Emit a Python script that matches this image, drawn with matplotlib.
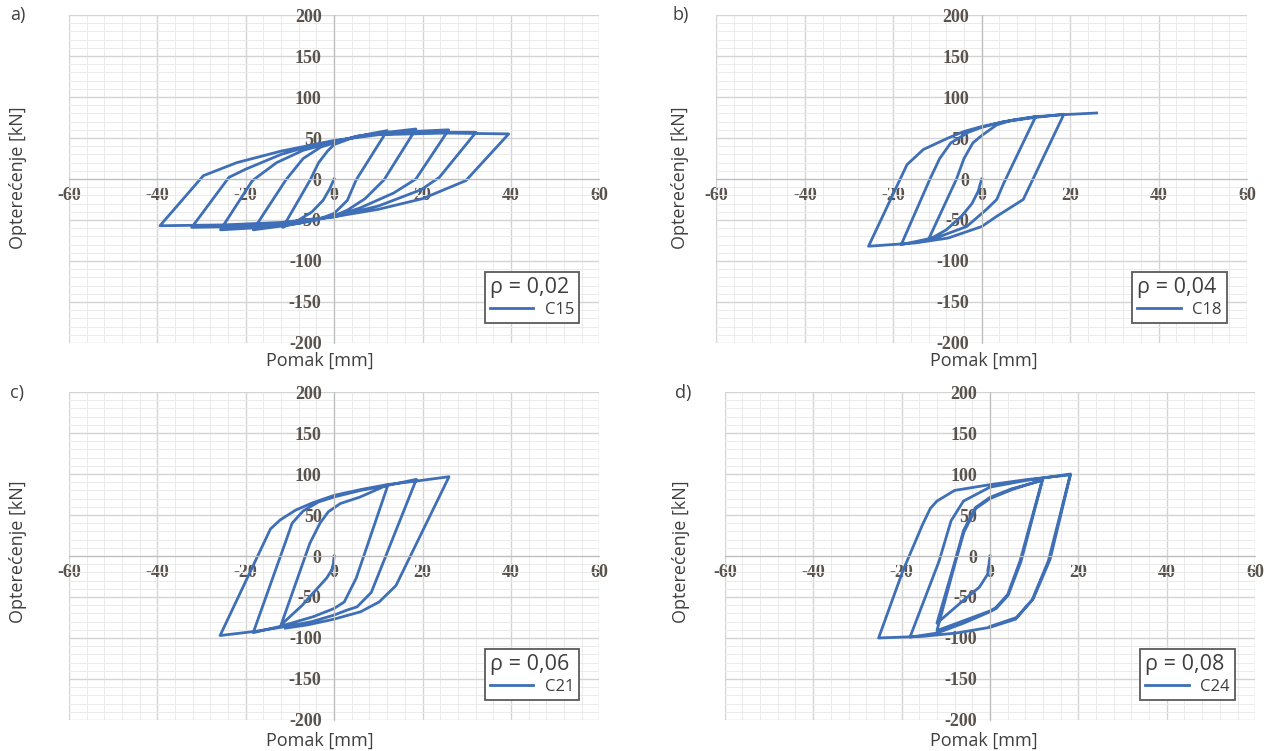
import numpy as np
import matplotlib.pyplot as plt

plt.rcParams['axes.unicode_minus'] = False

# C15 (rho = 0,02)
c15_x = [0, -1, -2.5, -5, -8, -11.6,
         -5.4, -3.5, -1.5, 0, 4, 8, 12,
         5, 3, 0, -4, -10, -18.3,
         -10.9, -7, -3, 0, 5, 12, 18.5,
         11.3, 7, 3, 0, -8, -16, -25.7,
         -18.5, -13, -7, 0, 6, 14, 25.9,
         18.5, 13.5, 6, 0, -10, -22, -32.2,
         -23.8, -20, -12, -5, 0, 8, 20, 32.1,
         23.8, 19.7, 10, 0, -12, -25, -39.4,
         -29.6, -22, -12, 0, 10, 25, 39.5,
         29.8, 20, 10, 0]
c15_y = [0, -12, -26, -40, -50, -59,
         -1, 20, 34, 42, 50, 55, 59,
         -1, -26, -42, -50, -56, -62,
         -1, 25, 39, 44, 52, 57, 61,
         -1, -24, -38, -45, -54, -59, -62,
         -2, 20, 35, 45, 53, 57, 60,
         0, -17, -35, -46, -54, -58, -59,
         2, 12, 30, 41, 46, 54, 57, 57,
         2, -13, -33, -46, -53, -56, -57,
         4, 20, 34, 47, 54, 56, 55,
         -2, -24, -37, -46]

# C18 (rho = 0,04)
c18_x = [0, -0.8, -2.2, -4.5, -8, -12.1,
         -5.7, -4, -2, 0, 3.4, 7, 12.2,
         5, 3.4, 1.1, -3.4, -9.4, -18.2,
         -11.7, -9.5, -7, -3, 0, 5, 12, 18.6,
         9.4, 3.4, 0, -7.6, -15, -25.6,
         -16.9, -13.2, -7.6, -4, 0, 5.3, 12.2, 18.6, 26]
c18_y = [0, -15, -30, -45, -62, -74.5,
         0, 25, 44, 53, 66, 72, 76,
         -5, -25, -37, -58, -70, -80,
         0, 25, 44, 57, 63, 70, 75, 79,
         -25, -45.5, -58, -72, -78, -82,
         17.5, 36, 50, 58, 64, 70, 76, 78.5, 80.5]

# C21 (rho = 0,06)
c21_x = [0, -0.3, -1.7, -4.4, -7.2, -12,
         -5.5, -3.2, -1.3, 1.4, 5.9, 12.2,
         5, 2.3, 0, -4.7, -12.3, -18.3,
         -11, -9.5, -7, -3.5, 0, 6, 12, 18.6,
         8.4, 5.2, 2.9, 0, -5, -10.9, -18, -25.8,
         -14.4, -12.2, -8.7, -4.8, 0, 6, 12, 18, 26,
         14, 10.2, 6, 0, -6, -11]
c21_y = [0, -15, -27, -43, -60, -84,
         15.4, 40, 54, 64, 72, 87,
         -27, -56, -64, -74, -86, -93.5,
         17, 40, 55, 66, 72, 80, 86, 93.5,
         -44.5, -62, -66, -72, -80, -86, -92, -97,
         33, 44, 56, 65, 74, 81, 87, 91, 96.7,
         -36, -56, -68, -77, -84, -88]

# C24 (rho = 0,08)
c24_x = [0, -0.5, -2.4, -6, -12,
         -7.9, -6, -3.3, 0, 4.9, 11.8,
         6.8, 4, 1.3, 0, -6, -12,
         -7.8, -5.9, -3.2, 0, 5, 11.9,
         7, 4.1, 1.4, 0, -6, -12, -18.1,
         -11.5, -8.8, -6, 0, 8, 18.2,
         13.2, 9.5, 5.8, 0, -7.7, -15.2, -25.2,
         -19.7, -15.2, -13.5, -12, -8, 0, 8, 18.2,
         13.6, 9.8, 6, 0]
c24_y = [0, -22, -38, -54, -82,
         -6, 31, 59, 71.5, 82, 92,
         -6, -47, -63, -67, -79, -91,
         -7, 29, 58, 70, 81, 93,
         -7, -48, -64, -68, -82, -94, -99,
         -6, 43, 67, 84, 92, 100,
         -6, -54, -77, -87, -94, -98, -100,
         -18, 39, 58, 67, 80, 87, 93, 99,
         -4, -52, -75, -86]

panels = [
    ('a)', c15_x, c15_y, 'C15', 'ρ = 0,02'),
    ('b)', c18_x, c18_y, 'C18', 'ρ = 0,04'),
    ('c)', c21_x, c21_y, 'C21', 'ρ = 0,06'),
    ('d)', c24_x, c24_y, 'C24', 'ρ = 0,08'),
]

# axes rectangles, panel letter, y-label and x-label positions (figure fraction)
rects = [[0.054, 0.5433, 0.4157, 0.4367],
         [0.5615, 0.5433, 0.4157, 0.4367],
         [0.054, 0.0413, 0.4157, 0.4367],
         [0.568, 0.0413, 0.4157, 0.4367]]
letter_pos = [(0.008, 0.98), (0.527, 0.98), (0.008, 0.477), (0.529, 0.477)]
ylab_pos = [(0.014, 0.763), (0.533, 0.763), (0.014, 0.265), (0.534, 0.265)]
xlab_pos = [(0.251, 0.519), (0.771, 0.519), (0.251, 0.013), (0.771, 0.013)]

blue = '#3f6fb6'
tick_col = '#5a524c'
text_col = '#3f3f3f'

fig = plt.figure(figsize=(12.76, 7.51), dpi=100)

for i, (letter, xs, ys, name, rho) in enumerate(panels):
    ax = fig.add_axes(rects[i])
    ax.plot(xs, ys, color=blue, lw=2.0, label=name, solid_joinstyle='round')
    ax.set_xlim(-60, 60)
    ax.set_ylim(-200, 200)
    ax.set_xticks(np.arange(-60, 61, 20))
    ax.set_yticks(np.arange(-200, 201, 50))
    ax.set_xticks(np.arange(-60, 61, 4), minor=True)
    ax.set_yticks(np.arange(-200, 201, 10), minor=True)
    ax.grid(which='minor', color='#ebebeb', lw=0.7)
    ax.grid(which='major', color='#d4d4d4', lw=1.0)
    for gl in ax.get_xgridlines() + ax.get_ygridlines():
        gl.set_clip_on(False)
    ax.set_axisbelow(True)
    ax.spines['left'].set_position('zero')
    ax.spines['bottom'].set_position('zero')
    ax.spines['left'].set_color('#bdbdbd')
    ax.spines['bottom'].set_color('#bdbdbd')
    ax.spines['top'].set_visible(False)
    ax.spines['right'].set_visible(False)
    ax.tick_params(which='both', length=0)
    ax.tick_params(axis='x', pad=6)
    ax.tick_params(axis='y', pad=9)
    for lab in ax.get_xticklabels() + ax.get_yticklabels():
        lab.set_fontfamily('Liberation Serif')
        lab.set_fontweight('bold')
        lab.set_fontsize(13)
        lab.set_color(tick_col)

    leg = ax.legend(loc='lower right', bbox_to_anchor=(0.962, 0.062),
                    borderaxespad=0, title=rho, frameon=True, fancybox=False,
                    framealpha=1, edgecolor='#5a5a5a', handlelength=2.6,
                    handletextpad=0.7, borderpad=0.3, labelspacing=0.2,
                    alignment='left',
                    prop={'family': 'Open Sans', 'size': 12},
                    title_fontproperties={'family': 'Open Sans', 'size': 15.5})
    leg.get_frame().set_linewidth(1.3)
    leg.get_title().set_color(text_col)
    for t in leg.get_texts():
        t.set_color(text_col)

    fig.text(*letter_pos[i], letter, fontsize=13, family='Open Sans',
             color=text_col, ha='left', va='center')
    fig.text(*ylab_pos[i], 'Opterećenje [kN]', rotation=90, fontsize=13,
             family='Open Sans', color=text_col, ha='center', va='center')
    fig.text(*xlab_pos[i], 'Pomak [mm]', fontsize=13, family='Open Sans',
             color=text_col, ha='center', va='center')

fig.savefig('out.png', dpi=100)
